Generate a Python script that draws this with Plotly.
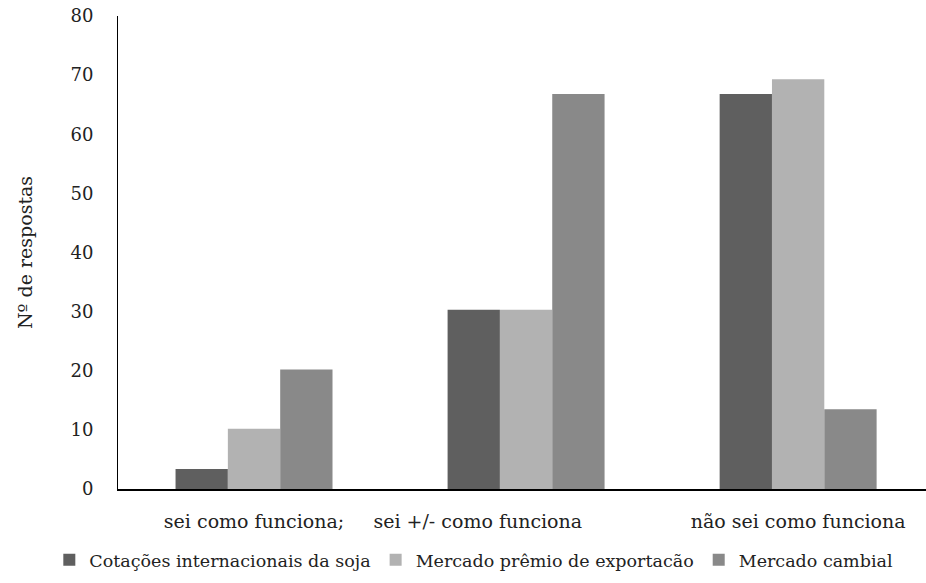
import plotly.graph_objects as go

# Categories and series (number of responses)
categorias = ["sei como funciona;", "sei +/- como funciona", "não sei como funciona"]
cotacoes = [3.4, 30.3, 66.8]
premio = [10.2, 30.3, 69.3]
cambial = [20.2, 66.8, 13.5]
series_nomes = ["Cotações internacionais da soja", "Mercado prêmio de exportacão", "Mercado cambial"]
cores = ["#5f5f5f", "#b2b2b2", "#898989"]
y_ticks = [0, 10, 20, 30, 40, 50, 60, 70, 80]

FONT = "DejaVu Serif"
TXT = "#222222"

# second label carries trailing spacing so it sits left of its group centre
rotulos = [categorias[0], categorias[1] + "\u00a0" * 16, categorias[2]]

fig = go.Figure()
for nome, vals, cor in zip(series_nomes, [cotacoes, premio, cambial], cores):
    fig.add_trace(go.Bar(
        x=categorias, y=vals, name=nome,
        marker=dict(color=cor, line=dict(width=0)),
    ))

fig.update_layout(
    width=926, height=583,
    margin=dict(l=118, r=0, t=16, b=94, autoexpand=False),
    paper_bgcolor="white", plot_bgcolor="white",
    barmode="group", bargap=0.423, bargroupgap=0,
    font=dict(family=FONT, size=18, color=TXT),
    showlegend=True,
    legend=dict(
        orientation="h", xref="paper", x=-0.085, xanchor="left",
        yref="paper", y=-0.15, yanchor="middle",
        font=dict(family=FONT, size=17.5, color=TXT),
        itemwidth=30, tracegroupgap=0,
    ),
)

fig.update_xaxes(
    type="category", range=[-0.5, 2.47],
    tickmode="array", tickvals=categorias, ticktext=rotulos,
    showline=True, linecolor="black", linewidth=1.5,
    ticks="", showgrid=False, zeroline=False,
    ticklabelstandoff=14,
    tickfont=dict(family=FONT, size=19, color=TXT),
)
fig.update_yaxes(
    range=[0, 80], tickmode="array", tickvals=y_ticks,
    showline=True, linecolor="black", linewidth=1,
    ticks="", showgrid=False, zeroline=False,
    ticklabelstandoff=20,
    tickfont=dict(family=FONT, size=18, color=TXT),
    title=dict(text="Nº de respostas", standoff=32,
               font=dict(family=FONT, size=19, color=TXT)),
)

fig.write_html("out.html")
